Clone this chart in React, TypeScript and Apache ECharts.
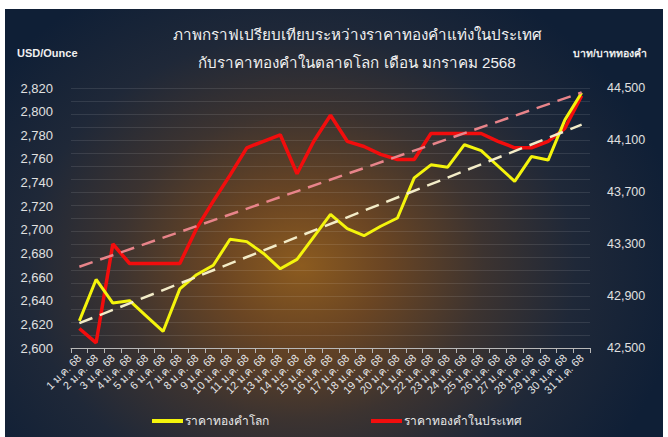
import React, { useEffect, useRef } from "react";
import * as echarts from "echarts";

const categories = [
  "1 ม.ค. 68", "2 ม.ค. 68", "3 ม.ค. 68", "4 ม.ค. 68", "5 ม.ค. 68", "6 ม.ค. 68",
  "7 ม.ค. 68", "8 ม.ค. 68", "9 ม.ค. 68", "10 ม.ค. 68", "11 ม.ค. 68", "12 ม.ค. 68",
  "13 ม.ค. 68", "14 ม.ค. 68", "15 ม.ค. 68", "16 ม.ค. 68", "17 ม.ค. 68", "18 ม.ค. 68",
  "19 ม.ค. 68", "20 ม.ค. 68", "21 ม.ค. 68", "22 ม.ค. 68", "23 ม.ค. 68", "24 ม.ค. 68",
  "25 ม.ค. 68", "26 ม.ค. 68", "27 ม.ค. 68", "28 ม.ค. 68", "29 ม.ค. 68", "30 ม.ค. 68",
  "31 ม.ค. 68",
];

// USD/Ounce (left axis)
const worldPrice = [
  2623, 2658, 2638, 2640, 2627, 2614, 2650, 2662, 2670, 2692, 2690, 2680,
  2667, 2675, 2694, 2713, 2701, 2695, 2703, 2710, 2744, 2755, 2753, 2772,
  2767, 2754, 2741, 2762, 2759, 2793, 2816,
];

// Baht per baht-weight (right axis)
const thaiPrice = [
  42650, 42540, 43300, 43150, 43150, 43150, 43150, 43420, 43630, 43830, 44040, 44090,
  44140, 43840, 44090, 44290, 44090, 44050, 43990, 43950, 43950, 44150, 44150, 44150,
  44150, 44090, 44040, 44040, 44090, 44190, 44440,
];

// trend line end points (first and last day)
const worldTrend = [2621, 2789];
const thaiTrend = [43125, 44465];

const leftAxisRange = [2600, 2820];
const leftAxisStep = 20;
const rightAxisRange = [42500, 44500];
const rightAxisStep = 400;

const seriesNames = ["ราคาทองคำโลก", "ราคาทองคำในประเทศ"];
const titleLines = [
  "ภาพกราฟเปรียบเทียบระหว่างราคาทองคำแท่งในประเทศ",
  "กับราคาทองคำในตลาดโลก เดือน มกราคม 2568",
];
const axisTitles = ["USD/Ounce", "บาท/บาททองคำ"];

const FONT = "'Liberation Sans', Arial, 'Noto Sans', sans-serif";

export default function App() {
  const ref = useRef<HTMLDivElement>(null);

  useEffect(() => {
    if (!ref.current) return;
    const chart = echarts.init(ref.current, null, { renderer: "svg" });
    const txt = (text: string, x: number, y: number, size: number, bold: boolean, align: string) => ({
      type: "text",
      x,
      y,
      style: {
        text,
        fill: "#f0f0f0",
        fontSize: size,
        fontWeight: bold ? "bold" : "normal",
        fontFamily: FONT,
        textAlign: align,
        textVerticalAlign: "middle",
      },
    });
    chart.setOption({
      animation: false,
      backgroundColor: "transparent",
      textStyle: { fontFamily: FONT },
      grid: { left: 71, right: 78, top: 88, bottom: 89, containLabel: false },
      graphic: [
        txt(titleLines[0], 357, 34, 15.2, false, "center"),
        txt(titleLines[1], 357, 62, 15.2, false, "center"),
        txt(axisTitles[0], 17, 53, 11, true, "left"),
        txt(axisTitles[1], 573, 53, 10.5, true, "left"),
      ],
      legend: {
        bottom: 5,
        left: 147,
        itemGap: 102,
        itemWidth: 31,
        itemHeight: 4,
        icon: "rect",
        textStyle: { color: "#e8e8e8", fontSize: 12, fontFamily: FONT, padding: [0, 0, 0, -3] },
        data: seriesNames,
      },
      xAxis: {
        type: "category",
        data: categories,
        boundaryGap: true,
        axisLine: { show: true, lineStyle: { color: "#b8b8b8", width: 1 } },
        axisTick: { show: true, length: 5, lineStyle: { color: "#b8b8b8" } },
        axisLabel: {
          interval: 0,
          rotate: 45,
          color: "#e4e4e4",
          fontSize: 11,
          margin: 8,
          fontFamily: FONT,
        },
      },
      yAxis: [
        {
          type: "value",
          min: leftAxisRange[0],
          max: leftAxisRange[1],
          interval: leftAxisStep,
          axisLine: { show: false },
          axisTick: { show: false },
          splitLine: { show: false },
          axisLabel: {
            color: "#e0e0e0",
            fontSize: 13,
            margin: 18,
            fontFamily: FONT,
            formatter: (v: number) => v.toLocaleString("en-US"),
          },
        },
        {
          type: "value",
          position: "right",
          min: rightAxisRange[0],
          max: rightAxisRange[1],
          interval: rightAxisStep,
          axisLine: { show: false },
          axisTick: { show: false },
          splitLine: { show: true, lineStyle: { color: "rgba(255,255,255,0.10)", width: 1 } },
          minorTick: { show: false, splitNumber: 4 },
          minorSplitLine: { show: true, lineStyle: { color: "rgba(255,255,255,0.10)", width: 1 } },
          axisLabel: {
            color: "#e0e0e0",
            fontSize: 12.5,
            margin: 17,
            fontFamily: FONT,
            formatter: (v: number) => v.toLocaleString("en-US"),
          },
        },
      ],
      series: [
        {
          name: seriesNames[0],
          type: "line",
          yAxisIndex: 0,
          data: worldPrice,
          symbol: "none",
          z: 4,
          itemStyle: { color: "#f4f40c" },
          lineStyle: { color: "#f4f40c", width: 3 },
          markLine: {
            silent: true,
            symbol: "none",
            label: { show: false },
            lineStyle: { color: "#f3ecc8", width: 2.5, type: [14, 8] },
            data: [
              [
                { coord: [categories[0], worldTrend[0]] },
                { coord: [categories[categories.length - 1], worldTrend[1]] },
              ],
            ],
          },
        },
        {
          name: seriesNames[1],
          type: "line",
          yAxisIndex: 1,
          data: thaiPrice,
          symbol: "none",
          z: 3,
          itemStyle: { color: "#f20d0d" },
          lineStyle: { color: "#f20d0d", width: 3.5 },
          markLine: {
            silent: true,
            symbol: "none",
            label: { show: false },
            lineStyle: { color: "#e8848a", width: 2.5, type: [14, 8] },
            data: [
              [
                { coord: [categories[0], thaiTrend[0]] },
                { coord: [categories[categories.length - 1], thaiTrend[1]] },
              ],
            ],
          },
        },
      ],
    });
    return () => chart.dispose();
  }, []);

  return (
    <div
      style={{
        position: "fixed",
        left: 0,
        top: 0,
        width: 668,
        height: 437,
        background: "#ffffff",
        overflow: "hidden",
      }}
    >
      <div
        style={{
          position: "absolute",
          left: 5,
          top: 9,
          width: 658,
          height: 428,
          background:
            "radial-gradient(ellipse 58% 75% at 45% 60%, #8c5b1f 0%, #6a4523 22%, #3c3330 48%, #1f2838 72%, #0f1f36 100%)",
        }}
      />
      <div ref={ref} style={{ position: "absolute", left: 0, top: 0, width: 668, height: 437 }} />
    </div>
  );
}
